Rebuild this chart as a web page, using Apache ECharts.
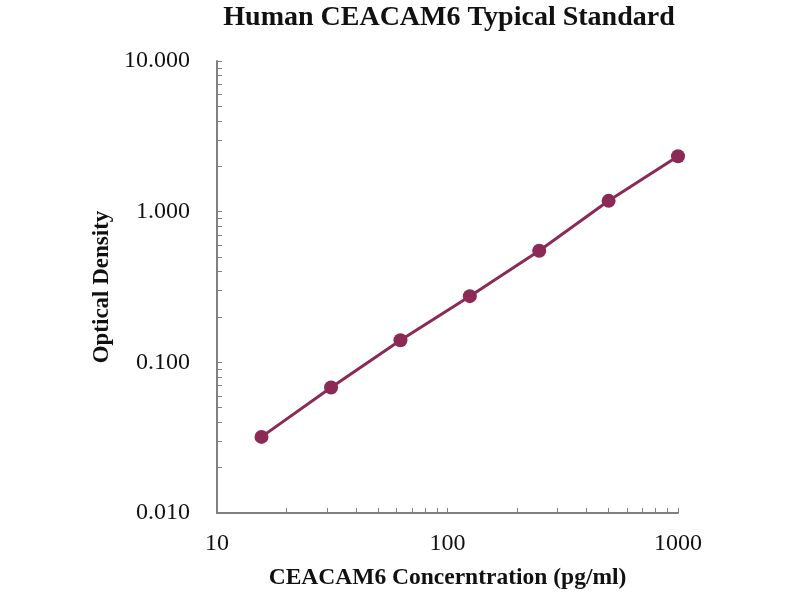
<!DOCTYPE html>
<html>
<head>
<meta charset="utf-8">
<script src="https://cdn.jsdelivr.net/npm/echarts@6/dist/echarts.min.js"></script>
<style>html,body{margin:0;padding:0;background:#fff}#c{width:800px;height:600px}</style>
</head>
<body>
<div id="c"></div>
<script>
const concentrations = [15.6, 31.25, 62.5, 125, 250, 500, 1000];
const opticalDensity = [0.032, 0.068, 0.140, 0.275, 0.55, 1.18, 2.33];
const xTickLabels = [10, 100, 1000];
const yTickLabels = [0.01, 0.1, 1, 10];
const xTickValues = [10,20,30,40,50,60,70,80,90,100,200,300,400,500,600,700,800,900,1000];
const yTickValues = [0.01,0.02,0.03,0.04,0.05,0.06,0.07,0.08,0.09,0.1,0.2,0.3,0.4,0.5,0.6,0.7,0.8,0.9,1,2,3,4,5,6,7,8,9,10];

const serif = '"Liberation Serif", "Times New Roman", serif';
const chart = echarts.init(document.getElementById('c'));
chart.setOption({
  animation: false,
  backgroundColor: '#fff',
  title: {
    text: 'Human CEACAM6 Typical Standard',
    left: 444, top: -1, textAlign: 'center',
    textStyle: { fontFamily: serif, fontWeight: 'bold', fontSize: 28, color: '#111' }
  },
  grid: { left: 217, right: 122, top: 61, bottom: 87 },
  xAxis: {
    type: 'log', logBase: 10, min: 10, max: 1000,
    name: 'CEACAM6 Concerntration (pg/ml)',
    nameLocation: 'middle', nameGap: 53,
    nameTextStyle: { fontFamily: serif, fontWeight: 'bold', fontSize: 23.5, color: '#111' },
    axisLine: { lineStyle: { color: '#808080', width: 2 } },
    axisTick: { inside: true, length: 5, customValues: xTickValues, lineStyle: { color: '#808080', width: 1 } },
    axisLabel: { customValues: xTickLabels, fontFamily: serif, fontSize: 24, color: '#111', margin: 19,
      formatter: v => String(Math.round(v)) },
    splitLine: { show: false }
  },
  yAxis: {
    type: 'log', logBase: 10, min: 0.01, max: 10,
    name: 'Optical Density',
    nameLocation: 'middle', nameGap: 91,
    nameTextStyle: { fontFamily: serif, fontWeight: 'bold', fontSize: 23, color: '#111' },
    axisLine: { show: true, lineStyle: { color: '#808080', width: 2 } },
    axisTick: { show: true, inside: true, length: 5, customValues: yTickValues, lineStyle: { color: '#808080', width: 1 } },
    axisLabel: { customValues: yTickLabels, fontFamily: serif, fontSize: 24, color: '#111', margin: 27,
      formatter: v => Number(v).toFixed(3) },
    splitLine: { show: false }
  },
  series: [{
    type: 'line',
    data: concentrations.map((c, i) => [c, opticalDensity[i]]),
    symbol: 'circle', symbolSize: 14,
    lineStyle: { color: '#8B2A55', width: 3 },
    itemStyle: { color: '#8B2A55' }
  }]
});
</script>
</body>
</html>
